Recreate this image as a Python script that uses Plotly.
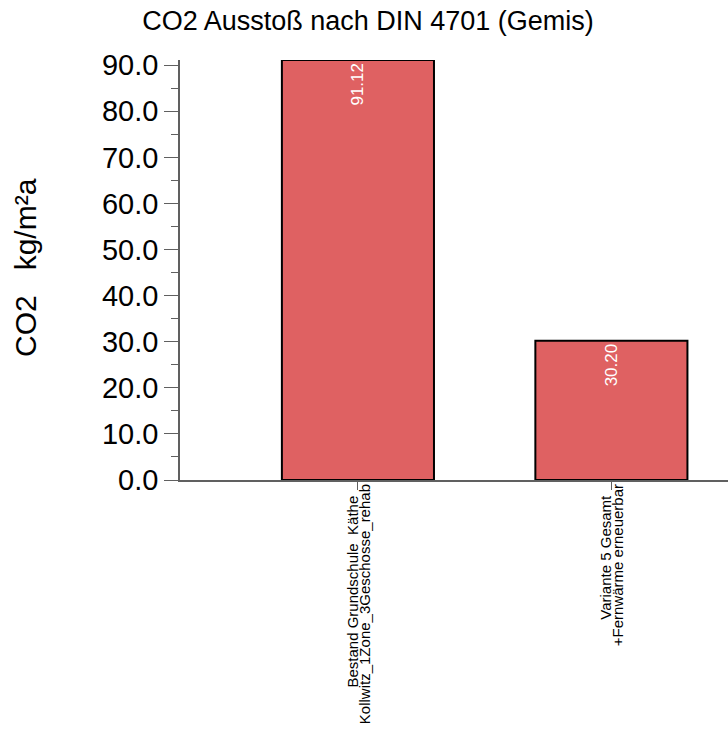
import plotly.graph_objects as go

# Chart data
categories = ["Bestand", "Variante 5"]
label_line1 = ["Bestand Grundschule  Käthe", "Variante 5 Gesamt"]
label_line2 = ["Kollwitz_1Zone_3Geschosse_rehab", "+Fernwärme erneuerbar"]
co2_values = [91.12, 30.20]
y_ticks = [0, 10, 20, 30, 40, 50, 60, 70, 80, 90]

FONT = "Liberation Sans, Arial, sans-serif"
AXIS_GREY = "#606060"

fig = go.Figure()

fig.add_trace(go.Bar(
    x=categories,
    y=co2_values,
    width=0.6,
    marker=dict(color="#DF6162", line=dict(color="black", width=2)),
    texttemplate="%{y:.2f}",
    textposition="inside",
    insidetextanchor="end",
    textangle=-90,
    textfont=dict(color="white", size=17, family=FONT),
    cliponaxis=False,
    showlegend=False,
    hoverinfo="skip",
))

# invisible companion trace carrying the second label line axis
fig.add_trace(go.Scatter(
    x=categories, y=co2_values, xaxis="x2", mode="markers",
    marker=dict(opacity=0), showlegend=False, hoverinfo="skip",
))

fig.update_layout(
    width=728,
    height=738,
    margin=dict(l=180, r=0, t=60, b=258),
    paper_bgcolor="white",
    plot_bgcolor="white",
    font=dict(family=FONT, color="black"),
    title=dict(
        text="CO2 Ausstoß nach DIN 4701 (Gemis)",
        x=368 / 728, xanchor="center",
        y=1 - 21 / 738, yanchor="middle",
        xref="container", yref="container",
        font=dict(size=27, family=FONT, color="black"),
    ),
    xaxis=dict(
        type="category",
        range=[-0.702, 1.46],
        tickmode="array",
        tickvals=categories,
        ticktext=label_line1,
        tickangle=-90,
        tickfont=dict(size=15, family=FONT, color="black"),
        ticklabelshift=-5,
        ticks="outside",
        ticklen=8,
        tickcolor=AXIS_GREY,
        showline=True,
        linecolor=AXIS_GREY,
        linewidth=1.5,
        showgrid=False,
        zeroline=False,
        fixedrange=True,
    ),
    xaxis2=dict(
        type="category",
        overlaying="x",
        matches="x",
        side="bottom",
        tickmode="array",
        tickvals=categories,
        ticktext=label_line2,
        tickangle=-90,
        tickfont=dict(size=15, family=FONT, color="black"),
        ticklabelshift=7,
        ticks="",
        showline=False,
        showgrid=False,
        zeroline=False,
    ),
    yaxis=dict(
        range=[0, 91.12],
        tickmode="array",
        tickvals=y_ticks,
        tickformat=".1f",
        tickfont=dict(size=29, family=FONT, color="black"),
        ticks="outside",
        ticklen=14,
        tickwidth=1.2,
        tickcolor=AXIS_GREY,
        minor=dict(dtick=5, tick0=0, ticks="outside", ticklen=7,
                   tickcolor=AXIS_GREY, tickwidth=1.2, showgrid=False),
        showline=True,
        linecolor=AXIS_GREY,
        linewidth=1.5,
        showgrid=False,
        zeroline=False,
        fixedrange=True,
    ),
    annotations=[dict(
        text="CO2\u00a0\u00a0\u00a0kg/m²a",
        textangle=-90,
        xref="paper", yref="paper",
        x=(25 - 180) / 548, y=(480 - 268) / 420,
        xanchor="center", yanchor="middle",
        showarrow=False,
        font=dict(size=30, family=FONT, color="black"),
    )],
)

fig.write_html("out.html")
